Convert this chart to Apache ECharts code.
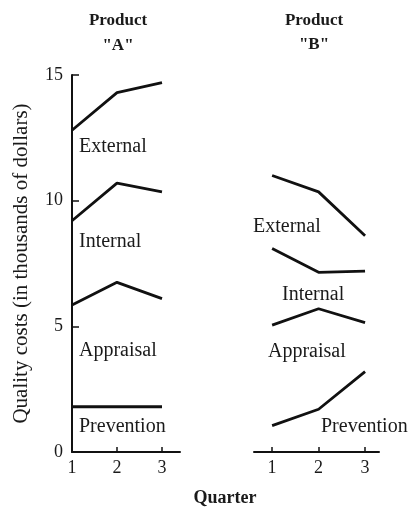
<!DOCTYPE html>
<html><head><meta charset="utf-8">
<script src="https://cdn.jsdelivr.net/npm/echarts@6/dist/echarts.min.js"></script>
<style>html,body{margin:0;padding:0;background:#fff}#c{width:408px;height:513px}</style>
</head><body><div id="c"></div>
<script>
const quarters = [1, 2, 3];
const yTicks = [0, 5, 10, 15];
const productA = {
  External:   [12.8, 14.3, 14.7],
  Internal:   [9.2, 10.7, 10.35],
  Appraisal:  [5.85, 6.75, 6.1],
  Prevention: [1.8, 1.8, 1.8]
};
const productB = {
  External:   [11.0, 10.35, 8.6],
  Internal:   [8.1, 7.15, 7.2],
  Appraisal:  [5.05, 5.7, 5.15],
  Prevention: [1.05, 1.7, 3.2]
};
const font = '"Liberation Serif", "DejaVu Serif", serif';
const chart = echarts.init(document.getElementById('c'));
function mk(obj, idx) {
  return Object.keys(obj).map(k => ({
    name: k, type: 'line', xAxisIndex: idx, yAxisIndex: idx,
    data: quarters.map((q, i) => [q, obj[k][i]]),
    symbol: 'none', lineStyle: {color: '#111', width: 2.8}, silent: true, animation: false
  }));
}
function txt(t, x, y, opts) {
  opts = opts || {};
  return {type: 'text', x: x, y: y, silent: true,
    style: {text: t, fill: '#1a1a1a', font: (opts.weight || 'normal') + ' ' + (opts.size || 20) + 'px ' + font,
            align: opts.align || 'left', verticalAlign: 'middle'}};
}
chart.setOption({
  animation: false,
  grid: [
    {left: 72, top: 75, width: 108, height: 377},
    {left: 254, top: 75, width: 125, height: 377}
  ],
  xAxis: [
    {gridIndex: 0, type: 'value', min: 1, max: 3.4,
     axisLine: {lineStyle: {color: '#111', width: 2}},
     axisTick: {inside: true, length: 5, customValues: quarters, lineStyle: {color: '#111', width: 1.5}},
     axisLabel: {customValues: quarters, color: '#1a1a1a', fontFamily: font, fontSize: 18, margin: 7},
     splitLine: {show: false}},
    {gridIndex: 1, type: 'value', min: 0.61, max: 3.3,
     axisLine: {lineStyle: {color: '#111', width: 2}},
     axisTick: {inside: true, length: 5, customValues: quarters, lineStyle: {color: '#111', width: 1.5}},
     axisLabel: {customValues: quarters, color: '#1a1a1a', fontFamily: font, fontSize: 18, margin: 7},
     splitLine: {show: false}}
  ],
  yAxis: [
    {gridIndex: 0, type: 'value', min: 0, max: 15, interval: 5,
     name: 'Quality costs (in thousands of dollars)', nameLocation: 'middle', nameRotate: 90, nameGap: 40,
     nameTextStyle: {color: '#1a1a1a', fontFamily: font, fontSize: 21},
     axisLine: {show: true, lineStyle: {color: '#111', width: 2}},
     axisTick: {inside: true, length: 7, lineStyle: {color: '#111', width: 1.5}},
     axisLabel: {color: '#1a1a1a', fontFamily: font, fontSize: 18, margin: 9},
     splitLine: {show: false}},
    {gridIndex: 1, type: 'value', min: 0, max: 15, interval: 5, show: false}
  ],
  series: mk(productA, 0).concat(mk(productB, 1)),
  graphic: [
    txt('Product', 118, 21, {weight: 'bold', size: 17, align: 'center'}),
    txt('"A"', 118, 46, {weight: 'bold', size: 17, align: 'center'}),
    txt('Product', 314, 21, {weight: 'bold', size: 17, align: 'center'}),
    txt('"B"', 314, 45, {weight: 'bold', size: 17, align: 'center'}),
    txt('External', 79, 147), txt('Internal', 79, 242), txt('Appraisal', 79, 351), txt('Prevention', 79, 427),
    txt('External', 253, 227), txt('Internal', 282, 295), txt('Appraisal', 268, 352), txt('Prevention', 321, 427),
    txt('Quarter', 225, 498, {weight: 'bold', size: 18, align: 'center'})
  ]
});
</script></body></html>
